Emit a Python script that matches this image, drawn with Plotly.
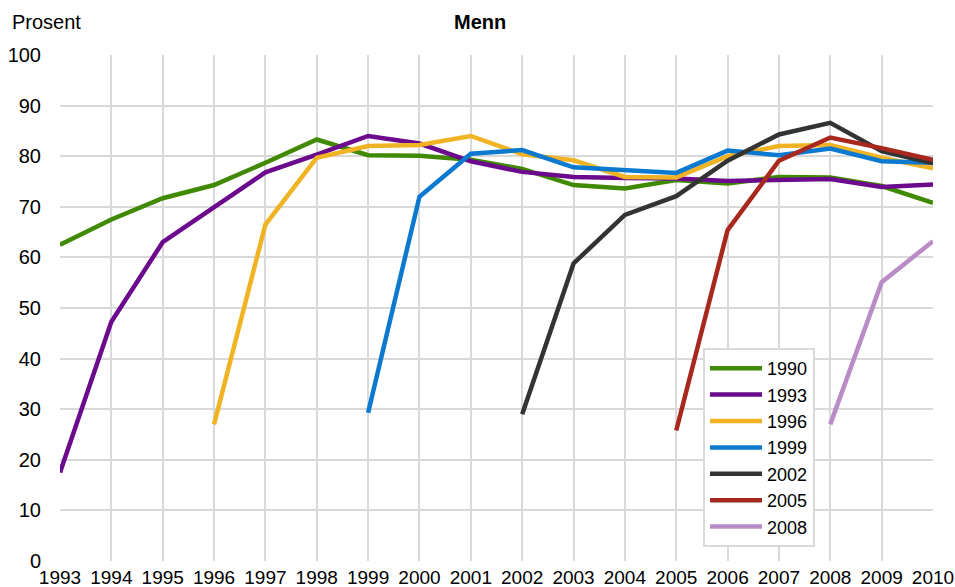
import plotly.graph_objects as go

years = list(range(1993, 2011))

cohorts = ["1990", "1993", "1996", "1999", "2002", "2005", "2008"]
colors = ["#3f8a00", "#6b0a8c", "#f0b323", "#0b79d0", "#333333", "#a8281e", "#b98cc8"]

s1990 = [62.5, 67.5, 71.7, 74.3, 78.7, 83.3, 80.2, 80.1, 79.3, 77.5, 74.3, 73.6, 75.3, 74.6, 75.9, 75.8, 74.1, 70.8]
s1993 = [17.5, 47.3, 63.0, 70.0, 76.8, 80.3, 84.0, 82.5, 79.0, 76.9, 75.9, 75.7, 75.6, 75.1, 75.3, 75.5, 73.9, 74.4]
s1996 = [None, None, None, 27.0, 66.5, 79.7, 82.0, 82.2, 84.0, 80.4, 79.2, 75.9, 75.8, 80.0, 82.0, 82.2, 79.7, 77.6]
s1999 = [None] * 6 + [29.3, 72.0, 80.5, 81.2, 77.8, 77.2, 76.7, 81.1, 80.2, 81.5, 79.0, 78.7]
s2002 = [None] * 9 + [29.0, 58.8, 68.4, 72.1, 79.1, 84.3, 86.6, 81.0, 78.6]
s2005 = [None] * 12 + [25.8, 65.4, 79.1, 83.7, 81.6, 79.3]
s2008 = [None] * 15 + [27.0, 55.1, 63.2]

series = [s1990, s1993, s1996, s1999, s2002, s2005, s2008]

fig = go.Figure()
for name, col, vals in zip(cohorts, colors, series):
    fig.add_trace(go.Scatter(x=years, y=vals, mode="lines", name=name,
                             line=dict(color=col, width=4.5), connectgaps=False))

font = "Liberation Sans, Arial, sans-serif"
L, R, T, B = 60, 22, 55, 26
W, H = 955, 587
pw = W - L - R
ph = H - T - B

fig.update_layout(
    width=W, height=H,
    margin=dict(l=L, r=R, t=T, b=B, autoexpand=False),
    paper_bgcolor="white", plot_bgcolor="white",
    font=dict(family=font, size=20, color="#000000"),
    showlegend=True,
    legend=dict(x=(703 - L) / pw, y=(H - B - 547) / ph, xanchor="left", yanchor="bottom",
                bordercolor="#d9d9d9", borderwidth=2, bgcolor="white",
                font=dict(size=18), tracegroupgap=0, itemwidth=52),
    xaxis=dict(range=[1993, 2010], tickmode="array", tickvals=years,
               ticktext=[str(y) for y in years], showgrid=True,
               gridcolor="#d9d9d9", gridwidth=2, zeroline=False,
               showline=False, ticks="", tickfont=dict(size=19), automargin=False,
               ticklabelstandoff=3),
    yaxis=dict(range=[0, 100], tickmode="array", tickvals=list(range(0, 101, 10)),
               showgrid=True, gridcolor="#d9d9d9", gridwidth=2, zeroline=False,
               showline=False, ticks="", tickfont=dict(size=20), automargin=False,
               ticklabelstandoff=18),
    annotations=[
        dict(text="Prosent", xref="paper", yref="paper", showarrow=False,
             x=(10 - L) / pw, y=(H - B - 22) / ph, xanchor="left", yanchor="middle",
             font=dict(size=20)),
        dict(text="<b>Menn</b>", xref="paper", yref="paper", showarrow=False,
             x=(480 - L) / pw, y=(H - B - 22) / ph, xanchor="center", yanchor="middle",
             font=dict(size=20)),
    ],
)

fig.write_html("out.html", post_script="document.body.style.margin='0';",
               config={"displayModeBar": False})
